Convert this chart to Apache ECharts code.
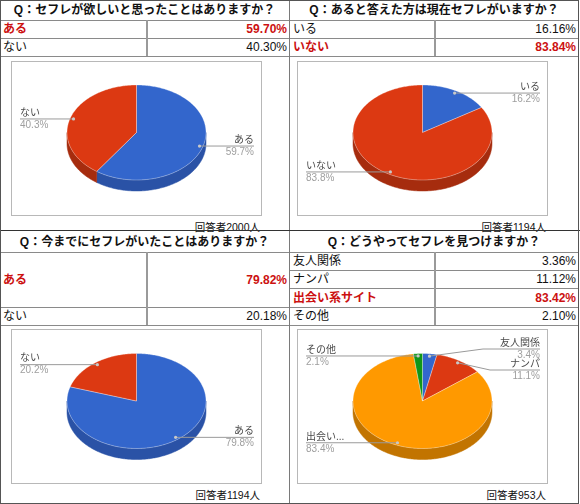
<!DOCTYPE html>
<html>
<head>
<meta charset="utf-8">
<script src="https://cdn.jsdelivr.net/npm/echarts@6/dist/echarts.min.js"></script>
<style>
body { margin: 0; background: #fff; }
#wrap { position: relative; width: 580px; height: 504px; overflow: hidden;
        font-family: "Liberation Sans", "Noto Sans CJK JP", sans-serif; color: #111; }
.ln { position: absolute; background: #8a8a8a; }
.q { position: absolute; text-align: center; font-weight: bold; font-size: 12px; white-space: nowrap; }
.cell { position: absolute; font-size: 12px; white-space: nowrap; }
.hot { color: #cc1111; font-weight: bold; }
.box { position: absolute; border: 1px solid #b8b8b8; box-sizing: border-box; }
.resp { position: absolute; font-size: 10.5px; text-align: right; white-space: nowrap; }
#chart { position: absolute; left: 0; top: 0; width: 580px; height: 504px; }
</style>
</head>
<body>
<div id="wrap"><div id="chart"></div></div>
<script>
// data
var q1Title = 'Q：セフレが欲しいと思ったことはありますか？';
var q1Names = ['ある', 'ない'];
var q1Values = [59.70, 40.30];
var q1Count = '回答者2000人';

var q2Title = 'Q：あると答えた方は現在セフレがいますか？';
var q2Names = ['いる', 'いない'];
var q2Values = [16.16, 83.84];
var q2Count = '回答者1194人';

var q3Title = 'Q：今までにセフレがいたことはありますか？';
var q3Names = ['ある', 'ない'];
var q3Values = [79.82, 20.18];
var q3Count = '回答者1194人';

var q4Title = 'Q：どうやってセフレを見つけますか？';
var q4Names = ['友人関係', 'ナンパ', '出会い系サイト', 'その他'];
var q4PieNames = ['友人関係', 'ナンパ', '出会い...', 'その他'];
var q4Values = [3.36, 11.12, 83.42, 2.10];
var q4Count = '回答者953人';

var topColors = ['#3366cc', '#dc3912', '#ff9900', '#109618'];
var sideColors = ['#2a52a6', '#a62c0e', '#c27400', '#0c7012'];

// layout of the four panels
var panels = [
    {title: q1Title, names: q1Names, pieNames: q1Names, values: q1Values, count: q1Count,
     x0: 0, x1: 289, top: 0, rows: [20, 38, 56], col: 146, box: [11, 61, 262, 216], cy: 132.5, bends: {}},
    {title: q2Title, names: q2Names, pieNames: q2Names, values: q2Values, count: q2Count,
     x0: 290, x1: 578, top: 0, rows: [20, 38, 56], col: 434, box: [297, 61, 548, 216], cy: 132.5, bends: {}},
    {title: q3Title, names: q3Names, pieNames: q3Names, values: q3Values, count: q3Count,
     x0: 0, x1: 289, top: 231, rows: [252, 307, 325], col: 146, box: [11, 329, 262, 484], cy: 401, bends: {}},
    {title: q4Title, names: q4Names, pieNames: q4PieNames, values: q4Values, count: q4Count,
     x0: 290, x1: 578, top: 231, rows: [252, 270, 288, 307, 325], col: 434, box: [297, 329, 548, 484], cy: 401,
     bends: {0: {y: 349, x: 483}, 1: {y: 370, x: 490}}}
];
var RX = 69.5, RY = 47.5, DEPTH = 11;

var wrap = document.getElementById('wrap');
var addDiv = function(cls, css, text) {
    var d = document.createElement('div');
    d.className = cls;
    d.style.cssText = css;
    if (text) d.textContent = text;
    wrap.insertBefore(d, document.getElementById('chart'));
    return d;
};

// tables and frames
panels.forEach(function(p) {
    var w = p.x1 - p.x0;
    addDiv('q', 'left:' + p.x0 + 'px;top:' + p.top + 'px;width:' + w + 'px;height:' + (p.rows[0] - p.top) +
        'px;line-height:' + (p.rows[0] - p.top + 1) + 'px;', p.title);
    p.rows.forEach(function(y) {
        addDiv('ln', 'left:' + p.x0 + 'px;top:' + y + 'px;width:' + w + 'px;height:1px;');
    });
    var last = p.rows[p.rows.length - 1];
    addDiv('ln', 'left:' + p.col + 'px;top:' + p.rows[0] + 'px;width:2px;height:' + (last - p.rows[0]) + 'px;background:#9a9a9a;');
    var maxI = p.values.indexOf(Math.max.apply(null, p.values));
    p.names.forEach(function(n, i) {
        var y0 = p.rows[i], h = p.rows[i + 1] - y0;
        var cls = 'cell' + (i == maxI ? ' hot' : '');
        addDiv(cls, 'left:' + (p.x0 + 3) + 'px;top:' + y0 + 'px;height:' + h + 'px;line-height:' + (h + 1) + 'px;', n);
        addDiv(cls, 'right:' + (580 - p.x1 + 2) + 'px;top:' + y0 + 'px;height:' + h + 'px;line-height:' + (h + 1) + 'px;',
            p.values[i].toFixed(2) + '%');
    });
    addDiv('box', 'left:' + p.box[0] + 'px;top:' + p.box[1] + 'px;width:' + (p.box[2] - p.box[0]) +
        'px;height:' + (p.box[3] - p.box[1]) + 'px;');
    addDiv('resp', 'right:' + (580 - p.box[2] + 2) + 'px;top:' + (p.box[3] + 3) + 'px;', p.count);
});
addDiv('ln', 'left:289px;top:0;width:1px;height:504px;background:#7a7a7a;');
addDiv('ln', 'left:0;top:230px;width:580px;height:1px;background:#333;');
addDiv('', 'position:absolute;left:0;top:0;width:579px;height:504px;border:1px solid #555;box-sizing:border-box;');

// 3D-looking pies
var pt = function(cx, cy, deg, r, dy) {
    var a = deg * Math.PI / 180;
    return [cx + RX * r * Math.sin(a), cy - RY * r * Math.cos(a) + (dy || 0)];
};
var arc = function(cx, cy, a0, a1, dy) {
    var out = [];
    var n = Math.max(2, Math.ceil(a1 - a0));
    for (var k = 0; k <= n; k++) out.push(pt(cx, cy, a0 + (a1 - a0) * k / n, 1, dy));
    return out;
};
var angles = function(values, i) {
    var total = 0, start = 0;
    for (var k = 0; k < values.length; k++) { total += values[k]; if (k < i) start += values[k]; }
    return [start / total * 360, (start + values[i]) / total * 360, values[i] / total * 100];
};

var labelFont = '"Liberation Sans","Noto Sans CJK JP",sans-serif';
var series = [];
panels.forEach(function(p) {
    var cx = (p.box[0] + p.box[2]) / 2, cy = p.cy;
    series.push({
        type: 'custom', coordinateSystem: 'none', silent: true, z: 2,
        data: p.values,
        renderItem: function(params, api) {
            var i = params.dataIndex;
            var a = angles(p.values, i);
            var kids = [];
            var s = Math.max(a[0], 90), e = Math.min(a[1], 270);
            if (e > s) {
                var front = arc(cx, cy, s, e, 0);
                var back = arc(cx, cy, s, e, DEPTH).reverse();
                kids.push({type: 'polygon', shape: {points: front.concat(back)},
                    style: {fill: sideColors[i], stroke: sideColors[i], lineWidth: 0.5}});
            }
            kids.push({type: 'polygon', shape: {points: [[cx, cy]].concat(arc(cx, cy, a[0], a[1], 0))},
                style: {fill: topColors[i], stroke: 'rgba(255,255,255,0.45)', lineWidth: 0.7}});
            return {type: 'group', children: kids};
        }
    });
    series.push({
        type: 'custom', coordinateSystem: 'none', silent: true, z: 3,
        data: p.values,
        renderItem: function(params, api) {
            var i = params.dataIndex;
            var a = angles(p.values, i);
            var dot = pt(cx, cy, (a[0] + a[1]) / 2, 0.95);
            var left = dot[0] < cx;
            var edge = left ? p.box[0] + 9 : p.box[2] - 8;
            var bend = p.bends[i];
            var ly = bend ? bend.y : dot[1];
            var pts = bend ? [dot, [bend.x, ly], [edge, ly]] : [dot, [edge, ly]];
            return {type: 'group', children: [
                {type: 'polyline', shape: {points: pts}, style: {stroke: '#9a9a9a', lineWidth: 1, fill: null}},
                {type: 'circle', shape: {cx: dot[0], cy: dot[1], r: 1.6}, style: {fill: '#c8c8c8'}},
                {type: 'text', style: {text: p.pieNames[i], x: edge, y: ly - 1, align: left ? 'left' : 'right',
                    verticalAlign: 'bottom', fill: '#4a4a4a', fontSize: 10, fontFamily: labelFont}},
                {type: 'text', style: {text: a[2].toFixed(1) + '%', x: edge, y: ly + 1, align: left ? 'left' : 'right',
                    verticalAlign: 'top', fill: '#9e9e9e', fontSize: 10, fontFamily: labelFont}}
            ]};
        }
    });
});

var myChart = echarts.init(document.getElementById('chart'));
myChart.setOption({animation: false, series: series});
</script>
</body>
</html>
